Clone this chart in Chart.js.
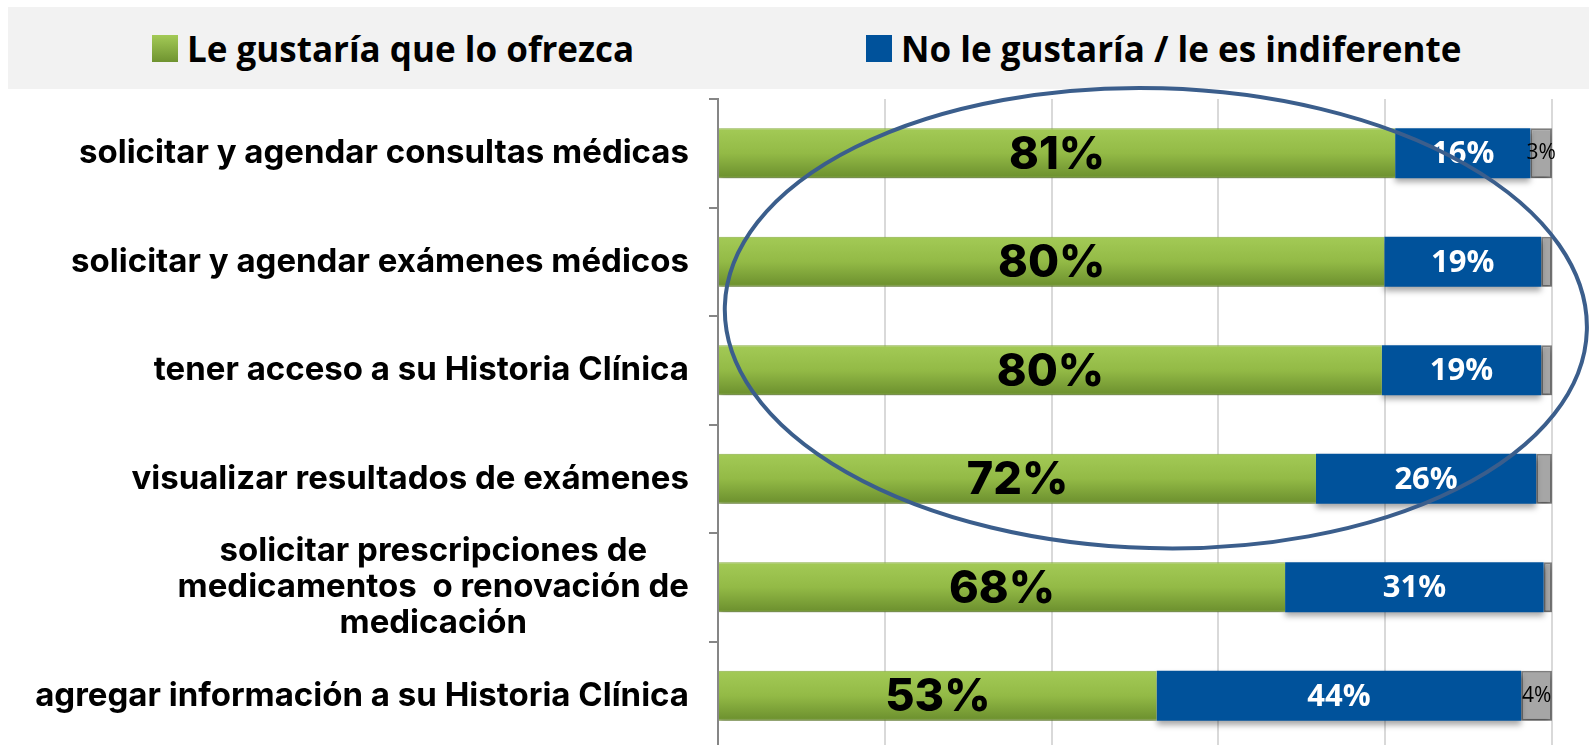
<!DOCTYPE html>
<html lang="es">
<head>
<meta charset="utf-8">
<title>Servicios en línea</title>
<script src="https://cdn.jsdelivr.net/npm/chart.js@4/dist/chart.umd.min.js"></script>
<style>
    html, body { margin: 0; padding: 0; background: #fff; overflow: hidden; }
    #leyenda {
        position: absolute; left: 8px; top: 7px; width: 1581px; height: 82px;
        background: #f2f2f2; z-index: 0;
    }
    .item {
        position: absolute; top: 0; height: 82px; display: flex; align-items: center;
        font-family: 'Open Sans', sans-serif; font-weight: 700; font-size: 35px; color: #000;
        white-space: nowrap;
    }
    .item .caja { width: 26px; height: 27px; margin-right: 9px; }
    #contenedor { position: absolute; left: 0; top: 0; width: 1589px; height: 750px; z-index: 1; }
</style>
</head>
<body>
<div id="leyenda"></div>
<div id="contenedor"><canvas id="grafico"></canvas></div>
<script>
// --- DATOS ---
const categorias = [
    'solicitar y agendar consultas médicas',
    'solicitar y agendar exámenes médicos',
    'tener acceso a su Historia Clínica',
    'visualizar resultados de exámenes',
    ['solicitar prescripciones de', 'medicamentos  o renovación de', 'medicación'],
    'agregar información a su Historia Clínica'
];
const nombresSeries = ['Le gustaría que lo ofrezca', 'No le gustaría / le es indiferente', 'NS/NC'];
const leGustaria = [81.2, 79.9, 79.6, 71.7, 68.0, 52.6];
const noLeGustaria = [16.2, 18.8, 19.1, 26.4, 31.0, 43.7];
const nsnc = [2.6, 1.3, 1.3, 1.9, 1.0, 3.7];
const ticksX = [0, 20, 40, 60, 80, 100];

// --- ESTILOS ---
const VERDE_CLARO = '#a3ca56';
const VERDE_OSCURO = '#6f9330';
const AZUL = '#00529b';
const GRIS = '#a6a6a6';
const FUENTE_CAT = 'Inter, "Noto Sans", sans-serif';
const FUENTE_NUM = '"Open Sans", sans-serif';

// Degradado vertical por barra (como en Excel)
function degradadoVerde(c) {
    const chart = c.chart;
    if (!chart.chartArea || c.type !== 'data') return '#8fb843';
    const yc = chart.scales.y.getPixelForValue(c.dataIndex);
    const g = chart.ctx.createLinearGradient(0, yc - 25, 0, yc + 25);
    g.addColorStop(0, VERDE_CLARO);
    g.addColorStop(0.5, '#93ba46');
    g.addColorStop(0.95, VERDE_OSCURO);
    g.addColorStop(1, '#86a94a');
    return g;
}

// --- LEYENDA (HTML) ---
const leyenda = document.getElementById('leyenda');
const posLeyenda = [152, 866];
[ { texto: nombresSeries[0], fondo: `linear-gradient(${VERDE_CLARO}, ${VERDE_OSCURO})` },
  { texto: nombresSeries[1], fondo: AZUL } ].forEach((it, i) => {
    const div = document.createElement('div');
    div.className = 'item';
    div.style.left = (posLeyenda[i] - 8) + 'px';
    div.innerHTML = `<span class="caja" style="background:${it.fondo}"></span><span>${it.texto}</span>`;
    leyenda.appendChild(div);
});

// --- PLUGINS ---
const sombra = {
    id: 'sombra',
    beforeDatasetsDraw(chart) {
        const ctx = chart.ctx;
        ctx.save();
        ctx.shadowColor = 'rgba(0,0,0,0.35)';
        ctx.shadowBlur = 6;
        ctx.shadowOffsetY = 4;
    },
    afterDatasetsDraw(chart) {
        chart.ctx.restore();
    }
};

const etiquetasBarras = {
    id: 'etiquetasBarras',
    afterDatasetsDraw(chart) {
        const ctx = chart.ctx;
        const estilos = [
            { font: `800 45px ${FUENTE_CAT}`, color: '#000', dy: 2 },
            { font: `700 31px ${FUENTE_NUM}`, color: '#fff', dy: 1 },
            { font: `400 21px ${FUENTE_NUM}`, color: '#000', dy: 0 }
        ];
        chart.data.datasets.forEach((ds, i) => {
            const meta = chart.getDatasetMeta(i);
            meta.data.forEach((barra, j) => {
                const v = ds.data[j];
                if (i === 2 && v < 2.5) return; // los grises pequeños no llevan etiqueta
                ctx.save();
                ctx.font = estilos[i].font;
                ctx.fillStyle = estilos[i].color;
                ctx.textAlign = 'center';
                ctx.textBaseline = 'middle';
                ctx.fillText(Math.round(v) + '%', (barra.x + barra.base) / 2, barra.y + estilos[i].dy);
                ctx.restore();
            });
        });
    }
};

// Etiquetas de categoría: las de varias líneas van centradas entre sí
const etiquetasCategorias = {
    id: 'etiquetasCategorias',
    afterDraw(chart) {
        const ctx = chart.ctx;
        const yEje = chart.scales.y;
        const derecha = chart.chartArea.left - 29;
        const alto = 36;
        ctx.save();
        ctx.font = `700 33px ${FUENTE_CAT}`;
        ctx.fillStyle = '#000';
        ctx.textBaseline = 'middle';
        categorias.forEach((cat, j) => {
            const yc = yEje.getPixelForValue(j);
            const lineas = Array.isArray(cat) ? cat : [cat];
            const anchoMax = Math.max(...lineas.map(l => ctx.measureText(l).width));
            lineas.forEach((l, k) => {
                const y = yc + (k - (lineas.length - 1) / 2) * alto;
                if (lineas.length > 1) {
                    ctx.textAlign = 'center';
                    ctx.fillText(l, derecha - anchoMax / 2, y);
                } else {
                    ctx.textAlign = 'right';
                    ctx.fillText(l, derecha, y);
                }
            });
        });
        ctx.restore();
    }
};

// Óvalo que resalta las cuatro primeras filas
const ovalo = { centroX: 52.5, centroCat: 1.52, radioX: 51.7, radioCat: 2.12, giro: 0.028 };
const resaltado = {
    id: 'resaltado',
    afterDraw(chart) {
        const { x, y } = chart.scales;
        const cx = x.getPixelForValue(ovalo.centroX);
        const cy = y.getPixelForValue(ovalo.centroCat);
        const rx = x.getPixelForValue(ovalo.centroX + ovalo.radioX) - cx;
        const ry = y.getPixelForValue(ovalo.centroCat + ovalo.radioCat) - cy;
        const ctx = chart.ctx;
        ctx.save();
        ctx.strokeStyle = '#3b5e8c';
        ctx.lineWidth = 4;
        ctx.beginPath();
        ctx.ellipse(cx, cy, rx, ry, ovalo.giro, 0, Math.PI * 2);
        ctx.stroke();
        ctx.restore();
    }
};

// --- GRÁFICO ---
new Chart(document.getElementById('grafico'), {
    type: 'bar',
    data: {
        labels: categorias,
        datasets: [
            { label: nombresSeries[0], data: leGustaria, backgroundColor: degradadoVerde,
              borderColor: '#8fb545', borderWidth: { top: 1, bottom: 1 } },
            { label: nombresSeries[1], data: noLeGustaria, backgroundColor: AZUL, borderWidth: 0 },
            { label: nombresSeries[2], data: nsnc, backgroundColor: GRIS, borderColor: '#7f7f7f', borderWidth: 2 }
        ]
    },
    options: {
        indexAxis: 'y',
        responsive: true,
        maintainAspectRatio: false,
        animation: false,
        events: [],
        datasets: { bar: { categoryPercentage: 1, barPercentage: 0.46, borderSkipped: false } },
        layout: { padding: { top: 99, right: 37, bottom: 0, left: 0 } },
        scales: {
            x: {
                stacked: true,
                min: ticksX[0],
                max: ticksX[ticksX.length - 1],
                afterBuildTicks: (s) => { s.ticks = ticksX.map(v => ({ value: v })); },
                ticks: { display: false },
                grid: { color: '#d9d9d9', lineWidth: 2, drawTicks: false },
                border: { display: false },
                afterFit: (s) => { s.height = 0; }
            },
            y: {
                stacked: true,
                ticks: { display: false },
                grid: { drawOnChartArea: false, offset: true, tickLength: 9, color: '#868686', lineWidth: 2 },
                border: { color: '#868686', width: 2 },
                afterFit: (s) => { s.width = 718; }
            }
        },
        plugins: {
            legend: { display: false },
            tooltip: { enabled: false }
        }
    },
    plugins: [sombra, etiquetasBarras, etiquetasCategorias, resaltado]
});
</script>
</body>
</html>
